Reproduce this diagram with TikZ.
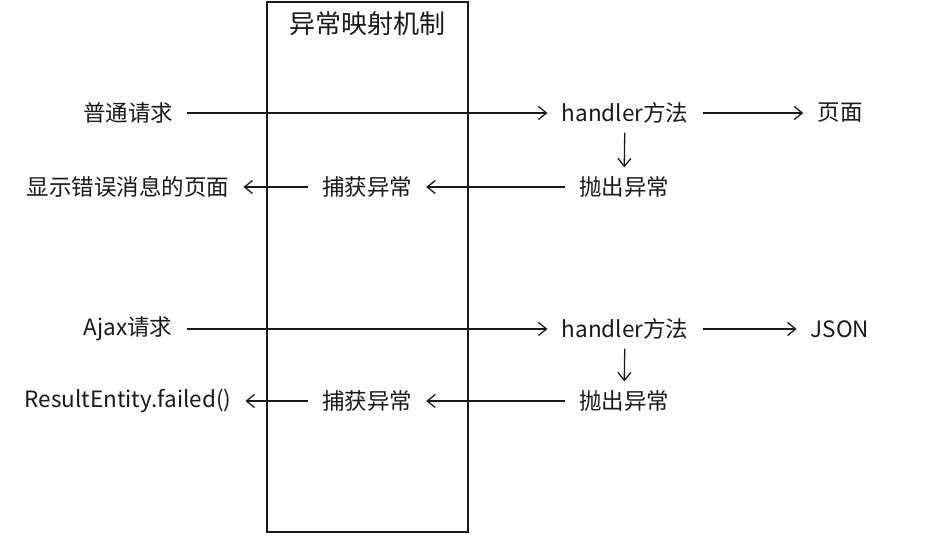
\documentclass[tikz,border=0pt]{standalone}
\usepackage{fontspec}
\setmainfont{Noto Sans CJK SC}
\usetikzlibrary{arrows.meta}
\definecolor{ink}{HTML}{1A1A1A}
\begin{document}
\begin{tikzpicture}[x=1pt,y=-1pt,
  lbl/.style={inner xsep=14pt,inner ysep=9pt,text=ink,font=\fontsize{22.5}{26}\selectfont},
  arr/.style={draw=ink,line width=1.3pt,-{Straight Barb[length=8pt,width=13pt]}}]
\useasboundingbox (0,0) rectangle (934,554);
\fill[white] (0,0) rectangle (934,554);
% the exception-mapping box
\draw[ink,line width=1.5pt] (267,2) rectangle (468,532);
\node[text=ink,font=\fontsize{26}{30}\selectfont] (title) at (367,24) {异常映射机制};

% ordinary request
\node[lbl] (req1) at (128,113) {普通请求};
\node[lbl] (h1) at (625,113) {handler方法};
\node[lbl] (page) at (840,113) {页面};
\node[lbl] (t1) at (624,187) {抛出异常};
\node[lbl] (c1) at (367,187) {捕获异常};
\node[lbl] (err) at (128,187) {显示错误消息的页面};
\draw[arr] (req1) -- (h1);
\draw[arr] (h1) -- (page);
\draw[arr] (h1) -- (t1);
\draw[arr] (t1) -- (c1);
\draw[arr] (c1) -- (err);

% Ajax request
\node[lbl] (req2) at (128,329) {Ajax请求};
\node[lbl] (h2) at (625,329) {handler方法};
\node[lbl] (json) at (840,329) {JSON};
\node[lbl] (t2) at (624,401) {抛出异常};
\node[lbl] (c2) at (367,401) {捕获异常};
\node[lbl] (res) at (128,401) {ResultEntity.failed()};
\draw[arr] (req2) -- (h2);
\draw[arr] (h2) -- (json);
\draw[arr] (h2) -- (t2);
\draw[arr] (t2) -- (c2);
\draw[arr] (c2) -- (res);
\end{tikzpicture}
\end{document}
